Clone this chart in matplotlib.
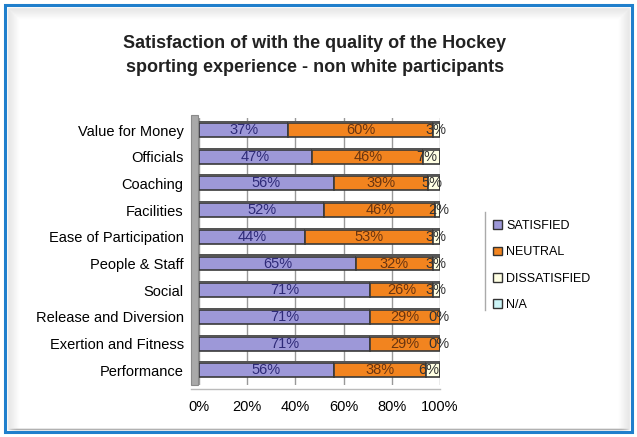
import numpy as np
import matplotlib.pyplot as plt
from matplotlib.patches import Rectangle, Patch
from matplotlib.lines import Line2D

plt.rcParams['font.family'] = ['Liberation Sans', 'DejaVu Sans']

# categories listed bottom to top
categories = ['Performance', 'Exertion and Fitness', 'Release and Diversion', 'Social',
              'People & Staff', 'Ease of Participation', 'Facilities', 'Coaching',
              'Officials', 'Value for Money']
satisfied = [56, 71, 71, 71, 65, 44, 52, 56, 47, 37]
neutral = [38, 29, 29, 26, 32, 53, 46, 39, 46, 60]
dissatisfied = [6, 0, 0, 3, 3, 3, 2, 5, 7, 3]
not_applicable = [0, 0, 0, 0, 0, 0, 0, 0, 0, 0]
series_names = ['SATISFIED', 'NEUTRAL', 'DISSATISFIED', 'N/A']

colors = ['#9d98d8', '#f2841f', '#ffffe3', '#ccf5f7']
label_colors = ['#2e2a78', '#6a3510', '#333333', '#333333']

W, H = 637, 437
fig = plt.figure(figsize=(W / 100, H / 100), dpi=100)

# outer blue frame with light grey inner shading
fig.patches.append(Rectangle((5 / W, 5 / H), 627 / W, 427 / H, transform=fig.transFigure,
                             facecolor='white', edgecolor='#1f7fcc', lw=2.2, zorder=0))
for i, a in enumerate(np.linspace(0.14, 0.0, 12)):
    fig.patches.append(Rectangle(((8 + i) / W, 8 / H), (621 - 2 * i) / W, (421 - i) / H,
                                 transform=fig.transFigure, facecolor='none',
                                 edgecolor='gray', alpha=a, lw=1, zorder=0))

ax = fig.add_axes([199 / W, 1 - 385 / H, 241 / W, 267 / H])
ax.set_zorder(2)
ax.patch.set_alpha(0)

# grey side wall of the 3D chart
fig.patches.append(Rectangle((191 / W, 1 - 385 / H), 7 / W, 270 / H, transform=fig.transFigure,
                             facecolor='#a9a9a9', edgecolor='#8a8a8a', lw=0.8, zorder=1))
fig.add_artist(Line2D([191 / W, 440 / W], [1 - 389 / H, 1 - 389 / H], color='#bbbbbb', lw=1))

y = np.arange(len(categories))
data = [satisfied, neutral, dissatisfied, not_applicable]
left = np.zeros(len(categories))
for vals, c, lc, name in zip(data, colors, label_colors, series_names):
    vals = np.array(vals, dtype=float)
    ax.barh(y, vals, left=left, height=0.52, color=c, edgecolor='#3a3a3a', lw=1.2,
            label=name, zorder=3)
    # darker top face for the 3D look
    ax.barh(y + 0.30, vals, left=left, height=0.08, color='#555555', edgecolor='none', zorder=3)
    if name != 'N/A':
        for yi, l, v in zip(y, left, vals):
            if name == 'DISSATISFIED' or v > 0:
                ax.text(l + v / 2 if name != 'DISSATISFIED' else min(l + 1.5, 99.5), yi,
                        '%d%%' % v, ha='center', va='center', fontsize=10.5,
                        color=lc, zorder=4)
    left += vals

ax.set_xlim(0, 100)
ax.set_ylim(-0.55, 9.45)
ax.set_xticks(np.arange(0, 101, 20))
ax.set_xticklabels(['%d%%' % t for t in range(0, 101, 20)])
ax.set_yticks(y)
ax.set_yticklabels(categories)
ax.tick_params(axis='y', length=0, pad=11, labelsize=10.5)
ax.tick_params(axis='x', length=0, pad=11, labelsize=10.5)
for s in ax.spines.values():
    s.set_visible(False)
ax.grid(axis='x', color='#999999', lw=1, zorder=0)

fig.text(315 / W, 1 - 44 / H, 'Satisfaction of with the quality of the Hockey',
         ha='center', va='center', fontsize=13, fontweight='bold', color='#222222')
fig.text(315 / W, 1 - 68 / H, 'sporting experience - non white participants',
         ha='center', va='center', fontsize=13, fontweight='bold', color='#222222')

# legend
fig.add_artist(Line2D([485 / W, 485 / W], [1 - 212 / H, 1 - 310 / H], color='#aaaaaa', lw=1))
handles = [Patch(facecolor=c, edgecolor='#333333', lw=1) for c in colors]
fig.legend(handles, series_names, loc='upper left', bbox_to_anchor=(488 / W, 1 - 215 / H),
           frameon=False, fontsize=9, handlelength=0.7, handleheight=0.7,
           handletextpad=0.35, labelspacing=1.15, borderaxespad=0)

fig.savefig('out.png', dpi=100)
